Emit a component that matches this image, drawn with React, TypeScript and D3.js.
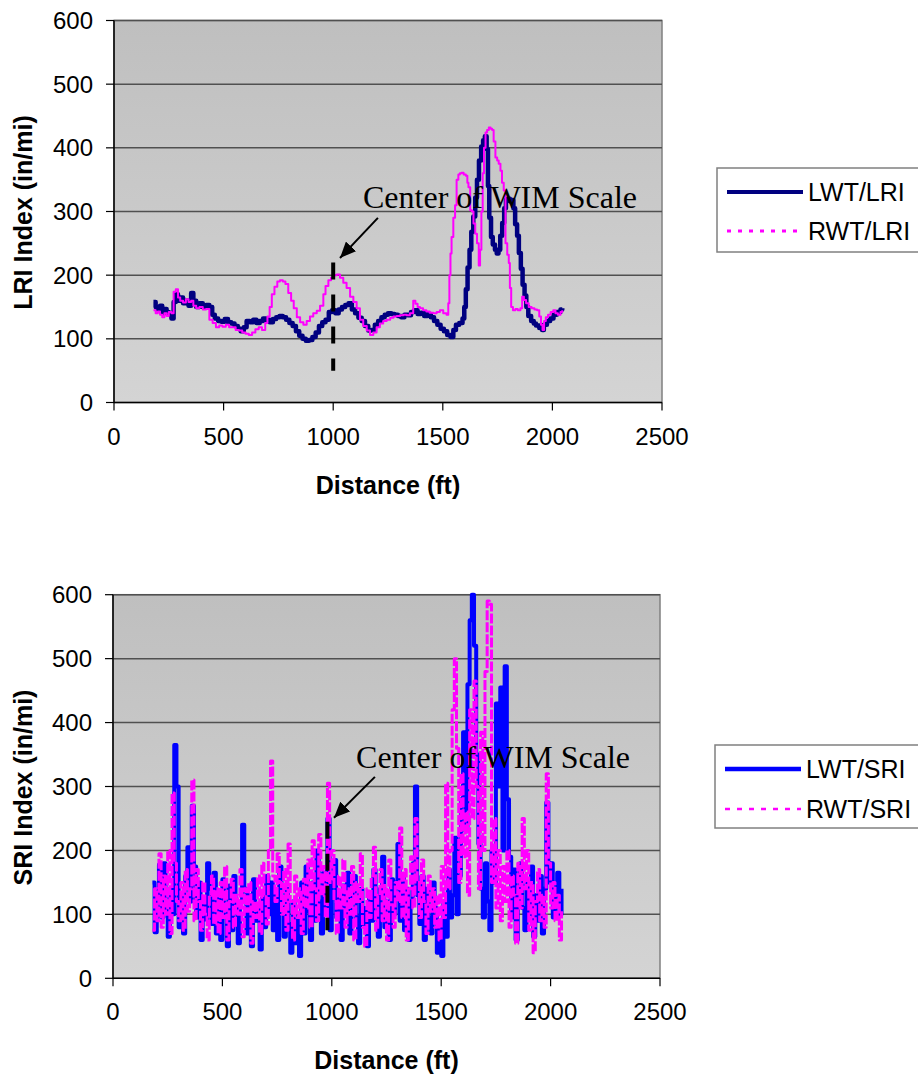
import React from 'react';
import * as d3 from 'd3';

// ---------- data ----------
const X_TICKS = [0, 500, 1000, 1500, 2000, 2500];
const Y_TICKS = [0, 100, 200, 300, 400, 500, 600];

const LRI_LEGEND = ['LWT/LRI', 'RWT/LRI'];
const SRI_LEGEND = ['LWT/SRI', 'RWT/SRI'];
const ANNOTATION = 'Center of WIM Scale';

// [distance ft, LRI in/mi]
const LWT_LRI: [number, number][] = [
  [180,158],[190,150],[200,146],[210,152],[220,140],[230,147],[240,142],[250,138],[262,132],[272,158],
  [282,170],[292,160],[302,165],[315,156],[328,160],[340,152],[352,172],[362,160],[375,150],[390,156],
  [405,150],[420,153],[435,150],[448,138],[460,132],[475,128],[490,127],[505,131],[520,126],[535,124],
  [550,120],[565,116],[578,112],[592,118],[605,128],[620,126],[635,130],[650,125],[665,128],[680,132],
  [695,130],[710,126],[725,131],[740,134],[755,136],[770,134],[785,130],[800,125],[815,120],[830,112],
  [845,105],[860,100],[875,97],[890,98],[905,103],[920,110],[935,120],[950,126],[965,130],[980,142],
  [995,145],[1010,140],[1025,146],[1040,150],[1055,153],[1070,156],[1085,146],[1100,140],[1115,133],[1130,128],
  [1145,120],[1160,113],[1175,114],[1190,122],[1205,128],[1220,134],[1235,138],[1250,140],[1265,139],[1280,138],
  [1295,136],[1310,134],[1325,138],[1340,137],[1355,142],[1370,145],[1385,139],[1400,141],[1415,136],[1430,139],
  [1445,134],[1460,128],[1475,122],[1490,116],[1505,112],[1520,106],[1535,103],[1548,114],[1560,122],[1575,125],
  [1590,132],[1598,150],[1605,178],[1613,212],[1622,240],[1630,268],[1639,292],[1648,322],[1656,350],[1665,380],
  [1675,402],[1684,412],[1692,418],[1700,398],[1706,340],[1712,290],[1720,260],[1728,248],[1738,240],[1746,234],
  [1754,240],[1762,262],[1771,282],[1780,305],[1788,318],[1797,320],[1806,316],[1814,318],[1822,305],[1830,280],
  [1839,262],[1847,235],[1856,210],[1864,185],[1873,168],[1881,150],[1890,136],[1903,128],[1915,124],[1925,121],
  [1940,117],[1953,114],[1961,122],[1975,128],[1990,132],[2005,138],[2020,142],[2037,146],[2045,148]
];

const RWT_LRI: [number, number][] = [
  [180,145],[190,140],[200,143],[210,138],[220,134],[230,140],[240,136],[250,142],[262,140],[272,174],
  [282,178],[292,165],[302,160],[315,157],[328,162],[340,158],[352,160],[362,152],[375,148],[390,150],
  [405,146],[420,147],[435,130],[450,125],[465,118],[480,121],[495,119],[510,122],[525,118],[540,118],
  [555,114],[570,113],[585,110],[600,108],[615,106],[630,110],[645,115],[660,118],[675,114],[690,125],
  [700,135],[710,150],[720,170],[732,182],[745,190],[757,192],[770,190],[782,186],[795,172],[808,160],
  [820,148],[834,134],[849,126],[864,122],[879,128],[894,135],[909,140],[925,144],[940,152],[955,170],
  [965,183],[978,192],[990,196],[1003,200],[1016,201],[1031,196],[1046,188],[1061,180],[1077,166],[1092,158],
  [1107,148],[1122,130],[1137,120],[1153,113],[1168,106],[1183,110],[1198,118],[1213,124],[1228,128],[1244,130],
  [1260,133],[1275,135],[1290,136],[1305,137],[1320,138],[1335,137],[1350,140],[1365,160],[1375,155],[1385,150],
  [1396,148],[1410,145],[1425,143],[1440,141],[1457,140],[1472,142],[1487,145],[1502,140],[1517,138],[1525,156],
  [1530,200],[1535,234],[1540,260],[1548,290],[1556,310],[1563,350],[1571,358],[1578,360],[1586,361],[1595,358],
  [1605,356],[1612,345],[1617,338],[1625,302],[1633,300],[1640,281],[1648,265],[1656,250],[1664,215],[1670,240],
  [1676,300],[1682,360],[1688,400],[1695,424],[1702,428],[1710,432],[1718,430],[1725,428],[1732,410],[1740,385],
  [1748,380],[1755,375],[1763,364],[1770,345],[1778,333],[1786,250],[1794,232],[1801,219],[1806,180],[1812,150],
  [1820,145],[1831,147],[1842,145],[1854,148],[1862,166],[1870,161],[1880,156],[1892,150],[1905,148],[1918,146],
  [1930,145],[1940,135],[1948,122],[1955,114],[1962,128],[1970,134],[1980,138],[1992,142],[2004,145],[2014,140],
  [2025,138],[2037,142],[2045,145]
];

// SRI sampled every 10 ft starting at 180 ft
const SRI_START = 180;
const SRI_STEP = 10;
const LWT_SRI = [
  150, 72, 120, 178, 95, 180, 110, 65, 140, 100,
  365, 300, 80, 130, 70, 160, 205, 120, 270, 175,
  95, 150, 60, 120, 92, 180, 140, 85, 165, 70,
  130, 60, 155, 100, 50, 145, 75, 160, 115, 55,
  120, 240, 140, 70, 130, 50, 155, 90, 110, 45,
  125, 80, 160, 100, 150, 75, 130, 60, 175, 110,
  65, 140, 85, 40, 120, 55, 95, 35, 150, 70,
  175, 105, 60, 150, 90, 200, 120, 70, 165, 110,
  250, 75, 150, 185, 95, 130, 60, 145, 100, 165,
  70, 130, 160, 95, 55, 140, 85, 110, 50, 125,
  90, 170, 115, 65, 140, 190, 80, 120, 60, 155,
  100, 150, 210, 90, 160, 75, 140, 60, 120, 180,
  300, 130, 85, 160, 60, 140, 95, 70, 150, 110,
  40, 90, 35, 120, 65, 170, 95, 130, 220, 100,
  160, 280, 385, 230, 460, 560, 600, 520, 350, 210,
  140, 95, 180, 120, 75, 200, 150, 430, 300, 455,
  200, 488, 280, 190, 95, 170, 60, 130, 180, 110,
  75, 150, 100, 175, 65, 130, 90, 160, 70, 140,
  275, 150, 180, 95, 130, 165, 100, 140
];
const RWT_SRI = [
  75, 140, 90, 195, 80, 160, 100, 200, 70, 290,
  180, 120, 90, 150, 75, 170, 105, 140, 310, 90,
  170, 120, 75, 150, 100, 60, 130, 160, 85, 140,
  70, 150, 95, 175, 60, 120, 155, 80, 130, 100,
  170, 65, 140, 105, 150, 55, 120, 95, 160, 70,
  180, 130, 85, 200, 340, 160, 120, 195, 150, 100,
  170, 75, 210, 120, 60, 160, 95, 140, 70, 155,
  110, 185, 80, 215, 140, 90, 225, 130, 175, 95,
  305, 150, 200, 120, 70, 160, 110, 185, 80, 140,
  100, 175, 60, 150, 120, 195, 80, 50, 140, 95,
  160, 205, 75, 130, 170, 90, 145, 60, 185, 115,
  80, 150, 120, 235, 95, 170, 60, 140, 190, 110,
  250, 150, 95, 185, 120, 70, 160, 105, 140, 80,
  130, 60, 175, 95, 305, 140, 200, 420, 500, 360,
  150, 320, 190, 260, 130, 420, 250, 465, 300, 140,
  385, 200, 480, 590, 585, 150, 250, 110, 200, 90,
  175, 120, 200, 80, 160, 130, 55, 180, 110, 250,
  140, 200, 75, 150, 40, 120, 170, 90, 130, 80,
  320, 180, 110, 150, 90, 130, 60, 105
];

// ---------- chart ----------
type Series = { pts: [number, number][]; color: string; width: number; dash?: string };
type Cfg = {
  id: string;
  x0: number; x1: number; y0: number; y1: number;
  yTitle: string;
  series: Series[];
  legend: string[];
  legendStyles: { color: string; width: number; dash?: string }[];
  legendBox: { x: number; y: number; h: number };
  legendRows: number[];
  wimD: number; wimV: [number, number];
  arrow: [number, number, number, number];
  label: [number, number];
};

const SANS = 'Arial, "Liberation Sans", Helvetica, sans-serif';
const SERIF = '"Times New Roman", "Liberation Serif", serif';

function Chart({ c }: { c: Cfg }) {
  const x = d3.scaleLinear().domain([0, 2500]).range([c.x0, c.x1]);
  const y = d3.scaleLinear().domain([0, 600]).range([c.y0, c.y1]);
  const line = d3.line<[number, number]>().x(d => x(d[0])).y(d => y(d[1])).curve(d3.curveStepAfter);
  const midX = (c.x0 + c.x1) / 2;
  const midY = (c.y0 + c.y1) / 2;
  return (
    <g>
      <defs>
        <linearGradient id={`bg-${c.id}`} x1="0" y1="0" x2="0" y2="1">
          <stop offset="0" stopColor="#bfbfbf" />
          <stop offset="1" stopColor="#d4d4d4" />
        </linearGradient>
      </defs>
      <rect x={c.x0} y={c.y1} width={c.x1 - c.x0} height={c.y0 - c.y1} fill={`url(#bg-${c.id})`} stroke="#808080" strokeWidth={1.5} />
      {Y_TICKS.filter(t => t > 0).map(t => (
        <line key={t} x1={c.x0} x2={c.x1} y1={y(t)} y2={y(t)} stroke="#505050" strokeWidth={1.5} />
      ))}
      {/* axes */}
      <line x1={c.x0} x2={c.x0} y1={c.y1} y2={c.y0} stroke="#000" strokeWidth={1.5} />
      <line x1={c.x0} x2={c.x1} y1={c.y0} y2={c.y0} stroke="#000" strokeWidth={1.5} />
      {Y_TICKS.map(t => (
        <g key={t}>
          <line x1={c.x0 - 8} x2={c.x0} y1={y(t)} y2={y(t)} stroke="#000" strokeWidth={1.2} />
          <text x={c.x0 - 21} y={y(t)} dy="0.36em" textAnchor="end" fontFamily={SANS} fontSize={24}>{t}</text>
        </g>
      ))}
      {X_TICKS.map(t => (
        <g key={t}>
          <line x1={x(t)} x2={x(t)} y1={c.y0} y2={c.y0 + 8} stroke="#000" strokeWidth={1.2} />
          <text x={x(t)} y={c.y0 + 42} textAnchor="middle" fontFamily={SANS} fontSize={24}>{t}</text>
        </g>
      ))}
      <text x={midX} y={c.y0 + 91} textAnchor="middle" fontFamily={SANS} fontWeight="bold" fontSize={25}>Distance (ft)</text>
      <text transform={`translate(32,${midY + 1}) rotate(-90)`} textAnchor="middle" fontFamily={SANS} fontWeight="bold" fontSize={25}>{c.yTitle}</text>
      {/* series */}
      {c.series.map((s, i) => (
        <path key={i} d={line(s.pts) || ''} fill="none" stroke={s.color} strokeWidth={s.width} strokeDasharray={s.dash} strokeLinejoin="round" />
      ))}
      {/* WIM center */}
      <line x1={x(c.wimD)} x2={x(c.wimD)} y1={y(c.wimV[0])} y2={y(c.wimV[1])} stroke="#000" strokeWidth={4} strokeDasharray="17,15" />
      <line x1={x(c.arrow[0])} y1={y(c.arrow[1])} x2={x(c.arrow[2])} y2={y(c.arrow[3])} stroke="#000" strokeWidth={2} markerEnd="url(#arrowhead)" />
      <text x={x(c.label[0])} y={y(c.label[1])} fontFamily={SERIF} fontSize={32}>{ANNOTATION}</text>
      {/* legend */}
      <rect x={c.legendBox.x} y={c.legendBox.y} width={240} height={c.legendBox.h} fill="#fff" stroke="#808080" strokeWidth={1.5} />
      {c.legend.map((name, i) => (
        <g key={name}>
          <line x1={c.legendBox.x + 10} x2={c.legendBox.x + 86} y1={c.legendRows[i]} y2={c.legendRows[i]}
            stroke={c.legendStyles[i].color} strokeWidth={c.legendStyles[i].width} strokeDasharray={c.legendStyles[i].dash} />
          <text x={c.legendBox.x + 91} y={c.legendRows[i]} dy="0.36em" fontFamily={SANS} fontSize={25}>{name}</text>
        </g>
      ))}
    </g>
  );
}

export default function App() {
  const sriPts = (arr: number[]) => arr.map((v, i) => [SRI_START + i * SRI_STEP, v] as [number, number]);
  const top: Cfg = {
    id: 'lri', x0: 114, x1: 662, y0: 402.5, y1: 20.5,
    yTitle: 'LRI Index (in/mi)',
    series: [
      { pts: LWT_LRI, color: '#000080', width: 4.5 },
      { pts: RWT_LRI, color: '#ff00ff', width: 2 },
    ],
    legend: LRI_LEGEND,
    legendStyles: [
      { color: '#000080', width: 4 },
      { color: '#ff00ff', width: 3, dash: '4,7' },
    ],
    legendBox: { x: 717, y: 168, h: 84 },
    legendRows: [192, 231],
    wimD: 1000, wimV: [220, 50],
    arrow: [1204, 290, 1031, 227],
    label: [1136, 305],
  };
  const bottom: Cfg = {
    id: 'sri', x0: 113, x1: 660, y0: 978.3, y1: 594.7,
    yTitle: 'SRI Index (in/mi)',
    series: [
      { pts: sriPts(LWT_SRI), color: '#0000ff', width: 4 },
      { pts: sriPts(RWT_SRI), color: '#ff00ff', width: 3, dash: '10,2' },
    ],
    legend: SRI_LEGEND,
    legendStyles: [
      { color: '#0000ff', width: 4.5 },
      { color: '#ff00ff', width: 2.5, dash: '5,7' },
    ],
    legendBox: { x: 715, y: 745, h: 83 },
    legendRows: [769, 809],
    wimD: 980, wimV: [245, 75],
    arrow: [1197, 315, 1010, 251],
    label: [1111, 329],
  };
  return (
    <div style={{ position: 'absolute', left: 0, top: 0 }}>
      <svg width={918} height={1078} style={{ display: 'block', background: '#fff' }}>
        <defs>
          <marker id="arrowhead" markerUnits="userSpaceOnUse" markerWidth={18} markerHeight={14} refX={16} refY={7} orient="auto">
            <path d="M0,0 L16,7 L0,14 z" fill="#000" />
          </marker>
        </defs>
        <Chart c={top} />
        <Chart c={bottom} />
      </svg>
    </div>
  );
}
